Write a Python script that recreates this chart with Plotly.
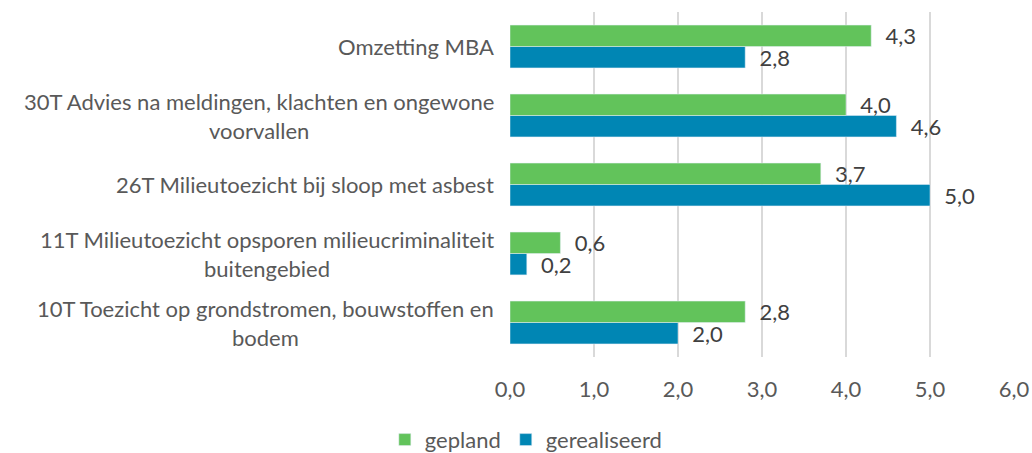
import plotly.graph_objects as go

categories = [
    "10T Toezicht op grondstromen, bouwstoffen en<br>bodem",
    "11T Milieutoezicht opsporen milieucriminaliteit<br>buitengebied",
    "26T Milieutoezicht bij sloop met asbest",
    "30T Advies na meldingen, klachten en ongewone<br>voorvallen",
    "Omzetting MBA",
]
gepland = [2.8, 0.6, 3.7, 4.0, 4.3]
gerealiseerd = [2.0, 0.2, 5.0, 4.6, 2.8]
x_ticks = [0, 1, 2, 3, 4, 5, 6]

GREEN = "#62C35B"
BLUE = "#0086B4"
FONT = "Lato"
TXT = "#595959"
FS = 22

def fmt(v):
    return "\u00a0\u00a0" + f"{v:.1f}".replace(".", ",")

fig = go.Figure()
fig.add_trace(go.Bar(
    y=categories, x=gerealiseerd, orientation="h", name="gerealiseerd",
    marker_color=BLUE, text=[fmt(v) for v in gerealiseerd], textposition="outside",
    constraintext="none",
    textfont=dict(family=FONT, size=FS, color="#404040"), cliponaxis=False,
    legendrank=2,
))
fig.add_trace(go.Bar(
    y=categories, x=gepland, orientation="h", name="gepland",
    marker_color=GREEN, text=[fmt(v) for v in gepland], textposition="outside",
    constraintext="none",
    textfont=dict(family=FONT, size=FS, color="#404040"), cliponaxis=False,
    legendrank=1,
))

for c in categories:
    fig.add_annotation(
        x=0, xref="paper", y=c, yref="y", text=c, showarrow=False,
        xanchor="right", align="center", xshift=-14,
        font=dict(family=FONT, size=FS, color=TXT),
    )

fig.update_layout(
    width=1032, height=453,
    margin=dict(l=510, r=18, t=12, b=96, autoexpand=False),
    paper_bgcolor="white", plot_bgcolor="white",
    barmode="group", bargap=0.38, bargroupgap=0,
    font=dict(family=FONT, size=FS, color=TXT),
    showlegend=True,
    legend=dict(orientation="h", x=0.51, xref="container", xanchor="center",
                y=-0.24, yref="paper", yanchor="middle",
                font=dict(family=FONT, size=FS, color=TXT),
                itemwidth=30, traceorder="normal"),
    xaxis=dict(range=[0, 6], tickvals=x_ticks, automargin=False,
               ticktext=[f"{v:.1f}".replace(".", ",") for v in x_ticks],
               showgrid=True, gridcolor="#D9D9D9", gridwidth=2, zeroline=False,
               showline=False, ticks="", ticklabelstandoff=17,
               tickfont=dict(family=FONT, size=FS, color=TXT)),
    yaxis=dict(showticklabels=False, showgrid=False, zeroline=False,
               showline=False, ticks="", automargin=False),
)

fig.write_html("out.html", config={"displayModeBar": False},
               post_script="document.body.style.margin='0';")
